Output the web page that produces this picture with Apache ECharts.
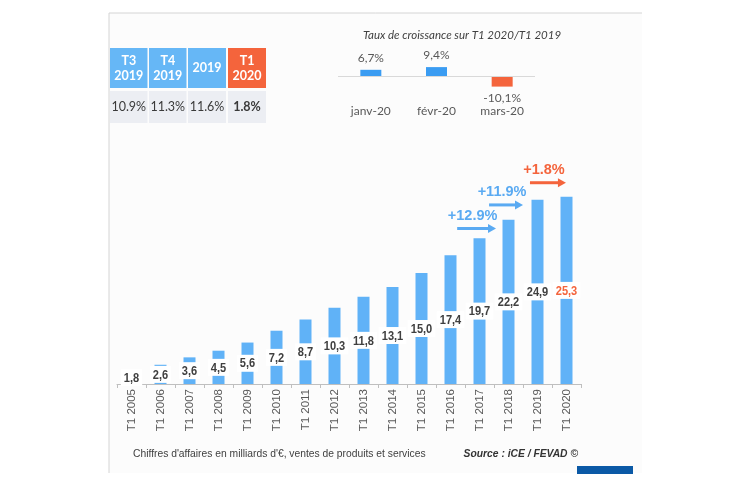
<!DOCTYPE html>
<html>
<head>
<meta charset="utf-8">
<script src="https://cdn.jsdelivr.net/npm/echarts@6/dist/echarts.min.js"></script>
<style>
html,body{margin:0;padding:0;background:#ffffff;}
#chart{width:750px;height:488px;}
</style>
</head>
<body>
<div id="chart"></div>
<script>
// ---- data ----
const years = ['T1 2005','T1 2006','T1 2007','T1 2008','T1 2009','T1 2010','T1 2011','T1 2012','T1 2013','T1 2014','T1 2015','T1 2016','T1 2017','T1 2018','T1 2019','T1 2020'];
const sales = [1.8, 2.6, 3.6, 4.5, 5.6, 7.2, 8.7, 10.3, 11.8, 13.1, 15.0, 17.4, 19.7, 22.2, 24.9, 25.3];
const monthCats = ['janv-20', 'févr-20', 'mars-20'];
const monthGrowth = [6.7, 9.4, -10.1];
const tableHeads = ['T3\n2019', 'T4\n2019', '2019', 'T1\n2020'];
const tableValues = ['10.9%', '11.3%', '11.6%', '1.8%'];
const growthLabels = ['+12.9%', '+11.9%', '+1.8%'];
const arrowFrom = [11.23, 12.33, 13.74];
const arrowTo = [12.57, 13.5, 14.98];
const arrowLevel = [21, 24.2, 27.2];
const insetTitle = 'Taux de croissance sur T1 2020/T1 2019';
const footNote = "Chiffres d'affaires en milliards d'€, ventes de produits et services";
const sourceNote = 'Source : iCE / FEVAD ©';

const BLUE = '#60b2f7';
const RED = '#f4643c';
const fmt = v => v.toFixed(1).replace('.', ',');

// ---- table graphic ----
const cellX = [110, 149, 188, 228];
const cellW = [37.5, 37.5, 38, 38];
const tableGraphics = [];
tableHeads.forEach((h, i) => {
  tableGraphics.push({
    type: 'rect', shape: {x: cellX[i], y: 48, width: cellW[i], height: 40},
    style: {fill: i === 3 ? RED : '#66b7f6'}
  });
  tableGraphics.push({
    type: 'text', x: cellX[i] + cellW[i] / 2, y: 68,
    style: {text: h, fill: '#ffffff', font: 'bold 12.5px Lato, "Open Sans", sans-serif',
      align: 'center', verticalAlign: 'middle', lineHeight: 15}
  });
  tableGraphics.push({
    type: 'rect', shape: {x: cellX[i], y: 91, width: cellW[i], height: 32},
    style: {fill: '#eceef3'}
  });
  tableGraphics.push({
    type: 'text', x: cellX[i] + cellW[i] / 2, y: 107,
    style: {text: tableValues[i], fill: '#3a3a3a',
      font: (i === 3 ? 'bold ' : '') + '12.5px Lato, "Open Sans", sans-serif',
      align: 'center', verticalAlign: 'middle'}
  });
});

const LABEL_FONT = 'bold 13.5px "Liberation Sans", Arial, sans-serif';
const LABEL_SCALE = 0.82;

const chart = echarts.init(document.getElementById('chart'), null, {renderer: 'canvas'});
chart.setOption({
  backgroundColor: '#ffffff',
  animation: false,
  title: {
    text: insetTitle, left: 358, top: 24,
    textStyle: {fontSize: 11.5, fontStyle: 'italic', fontWeight: 'normal', color: '#404040', fontFamily: 'Lato, sans-serif'}
  },
  graphic: [
    {type: 'rect', z: -10, shape: {x: 109, y: 13, width: 533, height: 460}, style: {fill: '#fcfcfc'}},
    {type: 'line', z: -9, shape: {x1: 109, y1: 13, x2: 642, y2: 13}, style: {stroke: '#d4d4d4', lineWidth: 1}},
    {type: 'line', z: -9, shape: {x1: 109, y1: 13, x2: 109, y2: 473}, style: {stroke: '#d4d4d4', lineWidth: 1}},
    {type: 'rect', shape: {x: 577, y: 466, width: 56, height: 8}, style: {fill: '#0b59a6'}},
    {type: 'text', x: 133, y: 454, style: {text: footNote, fill: '#404040', font: '10.3px "Liberation Sans", Arial, sans-serif', verticalAlign: 'middle'}},
    {type: 'text', x: 578, y: 454, style: {text: sourceNote, fill: '#333333', font: 'italic bold 10.3px "Liberation Sans", Arial, sans-serif', align: 'right', verticalAlign: 'middle'}}
  ].concat(tableGraphics),
  grid: [
    {left: 117, right: 169, top: 162, bottom: 104},
    {left: 338, right: 215, top: 61.5, bottom: 396.5}
  ],
  xAxis: [
    {
      type: 'category', gridIndex: 0, data: years,
      axisLine: {lineStyle: {color: '#bfbfbf', width: 1}},
      axisTick: {show: true, alignWithLabel: false, length: 4, lineStyle: {color: '#bfbfbf'}},
      axisLabel: {rotate: 90, fontSize: 11.5, color: '#595959', margin: 5, fontFamily: '"Liberation Sans", Arial, sans-serif'}
    },
    {type: 'value', gridIndex: 0, min: -0.5, max: 15.5, show: false},
    {
      type: 'category', gridIndex: 1, data: monthCats,
      axisLine: {show: false, onZero: false}, axisTick: {show: false},
      axisLabel: {fontSize: 12, color: '#595959', margin: 14, fontFamily: 'Lato, sans-serif'}
    }
  ],
  yAxis: [
    {type: 'value', gridIndex: 0, min: 0, max: 30, show: false, splitLine: {show: false}},
    {type: 'value', gridIndex: 1, min: -15, max: 15, show: false, splitLine: {show: false}}
  ],
  series: [
    {
      type: 'bar', xAxisIndex: 0, yAxisIndex: 0, data: sales, barWidth: 12,
      itemStyle: {color: BLUE}
    },
    {
      // value labels: white box + condensed bold text centred on each bar
      type: 'custom', xAxisIndex: 0, yAxisIndex: 0, z: 5, clip: false, silent: true,
      data: sales.map((v, i) => [i, v]),
      renderItem: (params, api) => {
        const i = api.value(0), v = api.value(1);
        const c = api.coord([i, v / 2]);
        const txt = fmt(v);
        const w = echarts.format.getTextRect ? echarts.format.getTextRect(txt, LABEL_FONT).width * LABEL_SCALE + 6 : 26;
        return {
          type: 'group',
          children: [
            {type: 'rect', shape: {x: c[0] - w / 2, y: c[1] - 8.5, width: w, height: 17}, style: {fill: '#ffffff'}},
            {type: 'text', x: c[0], y: c[1] + 0.5, scaleX: LABEL_SCALE,
              style: {text: txt, x: 0, y: 0, align: 'center', verticalAlign: 'middle',
                fill: params.dataIndex === sales.length - 1 ? RED : '#404040',
                font: LABEL_FONT}}
          ]
        };
      }
    },
    {
      type: 'custom', xAxisIndex: 1, yAxisIndex: 0, clip: false, silent: true,
      data: growthLabels.map((t, i) => [arrowFrom[i], arrowTo[i], arrowLevel[i]]),
      renderItem: (params, api) => {
        const i = params.dataIndex;
        const a = api.coord([api.value(0), api.value(2)]);
        const b = api.coord([api.value(1), api.value(2)]);
        const col = i === growthLabels.length - 1 ? RED : '#5aaaf2';
        return {
          type: 'group',
          children: [
            {type: 'line', shape: {x1: a[0], y1: a[1], x2: b[0] - 7, y2: b[1]}, style: {stroke: col, lineWidth: 3}},
            {type: 'polygon', shape: {points: [[b[0] - 8, b[1] - 4.5], [b[0], b[1]], [b[0] - 8, b[1] + 4.5]]}, style: {fill: col}},
            {type: 'text', x: (a[0] + b[0]) / 2 - 4, y: a[1] - 13,
              style: {text: growthLabels[i], fill: col, font: 'bold 14.5px "Liberation Sans", Arial, sans-serif', align: 'center', verticalAlign: 'middle'}}
          ]
        };
      }
    },
    {
      type: 'bar', xAxisIndex: 2, yAxisIndex: 1, barWidth: 21,
      data: monthGrowth.map(v => ({
        value: v,
        itemStyle: {color: v < 0 ? '#f4643c' : '#3a9cf2'},
        label: {position: v < 0 ? 'bottom' : 'top'}
      })),
      label: {
        show: true, formatter: p => fmt(p.value) + '%', distance: 6,
        fontSize: 12, color: '#595959', fontFamily: 'Lato, sans-serif'
      },
      markLine: {
        silent: true, symbol: 'none', label: {show: false},
        lineStyle: {color: '#d9d9d9', type: 'solid', width: 1},
        data: [{yAxis: 0}]
      }
    }
  ]
});
</script>
</body>
</html>
